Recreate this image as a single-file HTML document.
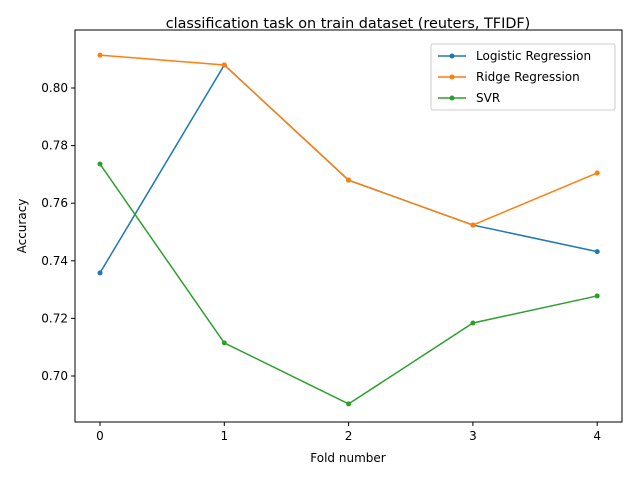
<!DOCTYPE html>
<html><head><meta charset="utf-8"><style>
body{margin:0;background:#fff;font-family:"DejaVu Sans","Liberation Sans",sans-serif;}
svg text{font-family:"DejaVu Sans","Liberation Sans",sans-serif;}
</style></head><body>
<svg id="chart" width="640" height="480" xmlns="http://www.w3.org/2000/svg">
<rect width="640" height="480" fill="#fff"/>
<text x="348" y="28" font-size="14.4" text-anchor="middle">classification task on train dataset (reuters, TFIDF)</text>
<g id="axes"></g>
<text x="348" y="462" font-size="12" text-anchor="middle">Fold number</text>
<text transform="translate(26,226) rotate(-90)" font-size="12" text-anchor="middle">Accuracy</text>
</svg>
<script>
const folds=[0,1,2,3,4];
const seriesNames=["Logistic Regression","Ridge Regression","SVR"];
const logistic=[0.7358,0.808,0.768,0.7524,0.7432];
const ridge=[0.8114,0.808,0.768,0.7524,0.7705];
const svr=[0.7736,0.7115,0.6903,0.7184,0.7278];
const yTicks=[0.70,0.72,0.74,0.76,0.78,0.80];
const colors=["#1f77b4","#ff7f0e","#2ca02c"];
const L=75,R=622,T=30,B=422;
const x=v=>100+v*124.3;
const y=v=>88+(0.80-v)*2880;
const ns="http://www.w3.org/2000/svg";
const g=document.getElementById('axes');
function mk(t,a){const e=document.createElementNS(ns,t);for(const k in a)e.setAttribute(k,a[k]);g.appendChild(e);return e;}
folds.forEach(f=>{
 const t=mk('line',{x1:x(f),x2:x(f),y1:B,y2:B+4,stroke:'#000'});
 
 
 const l=mk('text',{x:x(f),y:B+18,'font-size':12,'text-anchor':'middle'});l.textContent=f;
 
 
});
yTicks.forEach(v=>{
 const t=mk('line',{x1:L-4,x2:L,y1:y(v),y2:y(v),stroke:'#000'});
 
 
 const l=mk('text',{x:L-7,y:y(v)+4,'font-size':12,'text-anchor':'end'});l.textContent=v.toFixed(2);
 
 
});
[logistic,ridge,svr].forEach((s,i)=>{
 const p=mk('polyline',{points:s.map((v,j)=>x(folds[j])+','+y(v)).join(' '),fill:'none',stroke:colors[i],'stroke-width':1.5});
 
 
 s.forEach((v,j)=>{const c=mk('circle',{cx:x(folds[j]),cy:y(v),r:2.5,fill:colors[i]});
  
  });
});
const fr=mk('rect',{x:L,y:T,width:R-L,height:B-T,fill:'none',stroke:'#000','stroke-width':1});


const lg=mk('rect',{x:431,y:44,width:184,height:66,fill:'#fff',stroke:'#ccc',rx:2});


seriesNames.forEach((n,i)=>{
 const yy=56+i*21;
 const l=mk('line',{x1:438,x2:466,y1:yy,y2:yy,stroke:colors[i],'stroke-width':1.5});
 
 
 mk('circle',{cx:452,cy:yy,r:2.5,fill:colors[i]});
 const t=mk('text',{x:476,y:yy+4,'font-size':12});t.textContent=n;
 
 
});
</script>
</body></html>
